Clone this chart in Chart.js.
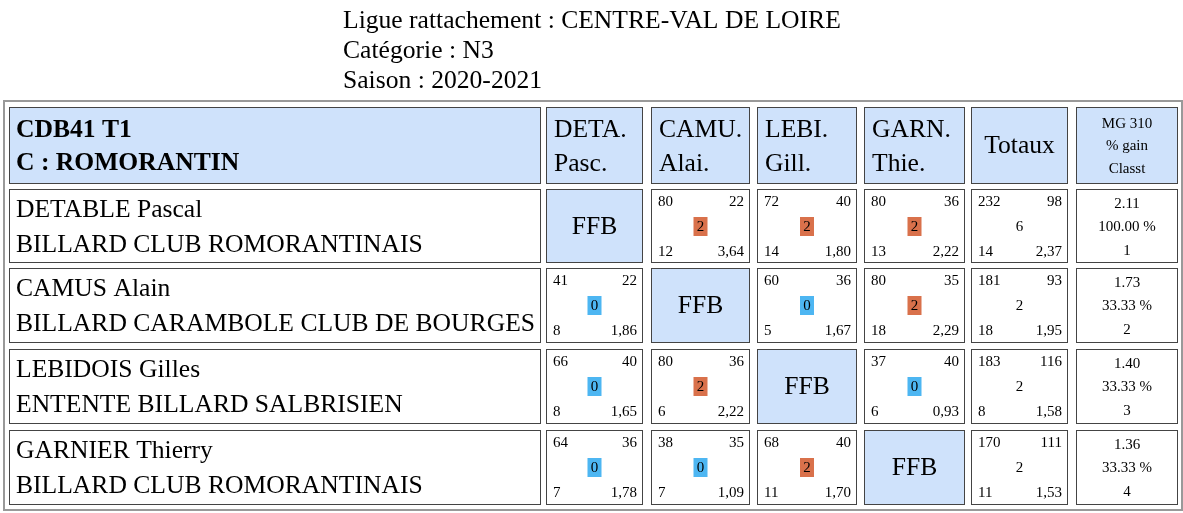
<!DOCTYPE html>
<html><head><meta charset="utf-8">
<script src="https://cdn.jsdelivr.net/npm/chart.js@4"></script>
<style>body{margin:0;background:#fff}canvas{display:block}</style>
</head><body>
<canvas id="c" width="1183" height="513"></canvas>
<script>
// données du tableau
var titleLines = ['Ligue rattachement : CENTRE-VAL DE LOIRE', 'Catégorie : N3', 'Saison : 2020-2021'];
var poule = ['CDB41 T1', 'C : ROMORANTIN'];
var shortNames = [['DETA.', 'Pasc.'], ['CAMU.', 'Alai.'], ['LEBI.', 'Gill.'], ['GARN.', 'Thie.']];
var players = ['DETABLE Pascal', 'CAMUS Alain', 'LEBIDOIS Gilles', 'GARNIER Thierry'];
var clubs = ['BILLARD CLUB ROMORANTINAIS', 'BILLARD CARAMBOLE CLUB DE BOURGES', 'ENTENTE BILLARD SALBRISIEN', 'BILLARD CLUB ROMORANTINAIS'];
var points = [[null, 80, 72, 80], [41, null, 60, 80], [66, 80, null, 37], [64, 38, 68, null]];
var serie = [[null, 22, 40, 36], [22, null, 36, 35], [40, 36, null, 40], [36, 35, 40, null]];
var matchPts = [[null, 2, 2, 2], [0, null, 0, 2], [0, 2, null, 0], [0, 0, 2, null]];
var reprises = [[null, 12, 14, 13], [8, null, 5, 18], [8, 6, null, 6], [7, 7, 11, null]];
var moyennes = [[null, '3,64', '1,80', '2,22'], ['1,86', null, '1,67', '2,29'], ['1,65', '2,22', null, '0,93'], ['1,78', '1,09', '1,70', null]];
var totPoints = [232, 181, 183, 170];
var totSerie = [98, 93, 116, 111];
var totMatch = [6, 2, 2, 2];
var totReprises = [14, 18, 8, 11];
var totMoy = ['2,37', '1,95', '1,58', '1,53'];
var mgValues = ['2.11', '1.73', '1.40', '1.36'];
var gainPct = ['100.00 %', '33.33 %', '33.33 %', '33.33 %'];
var classt = [1, 2, 3, 4];
var mgHeader = ['MG 310', '% gain', 'Classt'];

var colEdges = [[9, 541], [546, 643], [651, 750], [757, 857], [864, 965], [971, 1068], [1076, 1178]];
var rowEdges = [[107, 184], [189, 263], [268, 343], [349, 424], [430, 505]];
var SERIF = '"Liberation Serif", "DejaVu Serif", serif';
var BIG = 25.6, SMALL = 15;

var tablePlugin = {
  id: 'table',
  afterDraw: function (chart) {
    var ctx = chart.ctx, sx = chart.scales.x, sy = chart.scales.y;
    function X(v) { return sx.getPixelForValue(v); }
    function Y(v) { return sy.getPixelForValue(v); }
    function txt(s, x, y, size, align, bold) {
      ctx.font = (bold ? 'bold ' : '') + size + 'px ' + SERIF;
      ctx.textAlign = align || 'left';
      ctx.textBaseline = 'middle';
      ctx.fillStyle = '#000';
      ctx.fillText(String(s), X(x), Y(y));
    }
    ctx.save();
    titleLines.forEach(function (t, i) { txt(t, 343, 21 + i * 30, BIG); });
    // cadre extérieur
    ctx.strokeStyle = '#999'; ctx.lineWidth = 2;
    ctx.strokeRect(X(4), Y(101), X(1182) - X(4), Y(510) - Y(101));
    rowEdges.forEach(function (r, ri) {
      colEdges.forEach(function (c, ci) {
        var diag = ri > 0 && ci >= 1 && ci <= 4 && ri === ci;
        ctx.fillStyle = (ri === 0 || diag) ? '#cfe2fb' : '#fff';
        ctx.fillRect(X(c[0]), Y(r[0]), X(c[1]) - X(c[0]), Y(r[1]) - Y(r[0]));
        ctx.strokeStyle = '#444'; ctx.lineWidth = 1;
        ctx.strokeRect(X(c[0]) + 0.5, Y(r[0]) + 0.5, X(c[1]) - X(c[0]) - 1, Y(r[1]) - Y(r[0]) - 1);
      });
    });
    // en-tête
    txt(poule[0], 16, 130, BIG, 'left', true);
    txt(poule[1], 16, 163, BIG, 'left', true);
    shortNames.forEach(function (n, i) {
      var c = colEdges[i + 1];
      txt(n[0], c[0] + 8, 130, BIG);
      txt(n[1], c[0] + 8, 164, BIG);
    });
    txt('Totaux', (colEdges[5][0] + colEdges[5][1]) / 2, 146, BIG, 'center');
    mgHeader.forEach(function (s, i) { txt(s, (colEdges[6][0] + colEdges[6][1]) / 2, 124 + i * 22.5, SMALL, 'center'); });
    // lignes joueurs
    players.forEach(function (p, i) {
      var r = rowEdges[i + 1], top = r[0];
      txt(p, 16, top + 21, BIG);
      txt(clubs[i], 16, top + 56, BIG);
      for (var j = 0; j < 4; j++) {
        var c = colEdges[j + 1], mid = (c[0] + c[1]) / 2;
        if (i === j) { txt('FFB', mid, top + 38, BIG, 'center'); continue; }
        txt(points[i][j], c[0] + 7, top + 13, SMALL);
        txt(serie[i][j], c[1] - 6, top + 13, SMALL, 'right');
        ctx.fillStyle = matchPts[i][j] > 0 ? '#d9714b' : '#4db6f2';
        ctx.fillRect(X(mid - 7), Y(top + 28), X(mid + 7) - X(mid - 7), Y(top + 47) - Y(top + 28));
        txt(matchPts[i][j], mid, top + 38, SMALL, 'center');
        txt(reprises[i][j], c[0] + 7, top + 63, SMALL);
        txt(moyennes[i][j], c[1] - 6, top + 63, SMALL, 'right');
      }
      var t = colEdges[5], tm = (t[0] + t[1]) / 2;
      txt(totPoints[i], t[0] + 7, top + 13, SMALL);
      txt(totSerie[i], t[1] - 6, top + 13, SMALL, 'right');
      txt(totMatch[i], tm, top + 38, SMALL, 'center');
      txt(totReprises[i], t[0] + 7, top + 63, SMALL);
      txt(totMoy[i], t[1] - 6, top + 63, SMALL, 'right');
      var m = (colEdges[6][0] + colEdges[6][1]) / 2;
      txt(mgValues[i], m, top + 15, SMALL, 'center');
      txt(gainPct[i], m, top + 38, SMALL, 'center');
      txt(classt[i], m, top + 62, SMALL, 'center');
    });
    ctx.restore();
  }
};

new Chart(document.getElementById('c'), {
  type: 'scatter',
  data: { datasets: [{ data: [] }] },
  options: {
    responsive: false, animation: false,
    layout: { padding: 0 },
    plugins: { legend: { display: false }, tooltip: { enabled: false } },
    scales: {
      x: { type: 'linear', min: 0, max: 1183, display: false },
      y: { type: 'linear', min: 0, max: 513, reverse: true, display: false }
    }
  },
  plugins: [tablePlugin]
});
</script>
</body></html>
